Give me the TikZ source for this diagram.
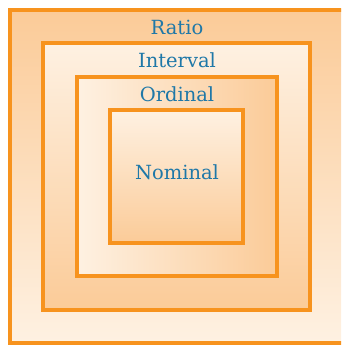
\documentclass[tikz,border=0pt]{standalone}
\usepackage{fontspec}
\setmainfont{DejaVu Serif}
\definecolor{edge}{HTML}{F7931E}
\definecolor{darkfill}{HTML}{FBCB98}
\definecolor{lightfill}{HTML}{FEF1E2}
\definecolor{txt}{HTML}{1F78A8}
\tikzset{
  lvl/.style={draw=edge, line width=3.2pt},
  lbl/.style={text=txt, font=\fontsize{19.5}{22}\selectfont},
}
\begin{document}
\begin{tikzpicture}[x=1pt,y=1pt]
\useasboundingbox (0,0) rectangle (341,358);
\clip (0,0) rectangle (341,358);
% outer Ratio
\path[lvl, top color=darkfill, bottom color=lightfill] (10,15) rectangle (346,348);
% Interval
\path[lvl, top color=lightfill, bottom color=darkfill] (43,48) rectangle (310,315);
% Ordinal
\path[lvl, left color=lightfill, right color=darkfill] (77,82) rectangle (277,281);
% Nominal
\path[lvl, top color=lightfill, bottom color=darkfill] (110,115) rectangle (243,248);
\node[lbl] (ratio) at (177,331) {Ratio};
\node[lbl] (interval) at (177,298) {Interval};
\node[lbl] (ordinal) at (177,264) {Ordinal};
\node[lbl] (nominal) at (177,186) {Nominal};
\end{tikzpicture}
\end{document}
